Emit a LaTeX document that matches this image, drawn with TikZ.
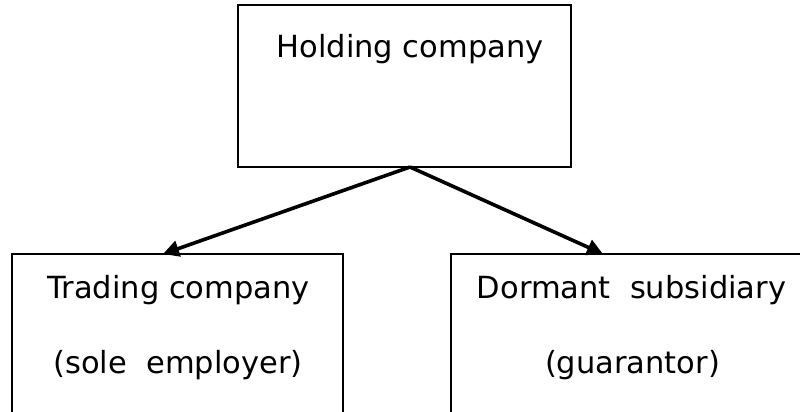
\documentclass[tikz,border=0pt]{standalone}
\usepackage{fontspec}
\setmainfont{DejaVu Sans}
\usetikzlibrary{arrows.meta}
\begin{document}
\begin{tikzpicture}[x=1pt,y=-1pt,
  boxframe/.style={draw=black,line width=1.3pt,rectangle,inner sep=0pt},
  lbl/.style={anchor=base,inner sep=0pt,font=\fontsize{30.5}{36}\selectfont},
  link/.style={line width=3.6pt,-{Triangle[length=16pt,width=16pt]}}]
\useasboundingbox (0,0) rectangle (800,412);
\clip (0,0) rectangle (800,412);
\node[boxframe,minimum width=333pt,minimum height=162pt] (top) at (404.5,86) {};
\node[boxframe,minimum width=331pt,minimum height=206pt] (left) at (177.5,357) {};
\node[boxframe,minimum width=360pt,minimum height=206pt] (right) at (631,357) {};
\node[lbl] (t1) at (410,57) {Holding company};
\node[lbl] (t2) at (178.5,298) {Trading company};
\node[lbl] (t3) at (178,373) {(sole\ \ employer)};
\node[lbl] (t4) at (631.5,298) {Dormant\ \ subsidiary};
\node[lbl] (t5) at (632.5,373) {(guarantor)};
\coordinate (hub) at (410,167);
\coordinate (lin) at (163,254);
\coordinate (rin) at (603,254);
\draw[link] (hub) -- (lin);
\draw[link] (hub) -- (rin);
\end{tikzpicture}
\end{document}
